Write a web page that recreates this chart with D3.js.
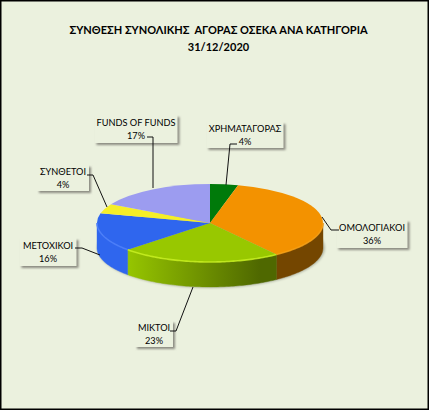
<!DOCTYPE html>
<html>
<head>
<meta charset="utf-8">
<script src="https://d3js.org/d3.v7.min.js"></script>
<style>
  html, body { margin: 0; padding: 0; background: #fff; }
  svg { display: block; }
  text { font-family: Lato, "Open Sans", sans-serif; fill: #000; }
</style>
</head>
<body>
<svg id="chart" width="429" height="410"></svg>
<script>
var titleLines = ["ΣΥΝΘΕΣΗ ΣΥΝΟΛΙΚΗΣ  ΑΓΟΡΑΣ ΟΣΕΚΑ ΑΝΑ ΚΑΤΗΓΟΡΙΑ", "31/12/2020"];
var categories = ["ΧΡΗΜΑΤΑΓΟΡΑΣ", "ΟΜΟΛΟΓΙΑΚΟΙ", "ΜΙΚΤΟΙ", "ΜΕΤΟΧΙΚΟΙ", "ΣΥΝΘΕΤΟΙ", "FUNDS OF FUNDS"];
var values = [4, 36, 23, 16, 4, 17];
var colors = ["#007a0a", "#f39200", "#98c800", "#2f66ee", "#f5ee28", "#9c9cf0"];
var darkColors = ["#004a06", "#744600", "#4f6800", "#2a5cd8", "#a09a10", "#6060a0"];
var rimColors = ["#fff", "#f7a015", "#c8f020", "#4d80fa", "#fff", "#fff"];

// label boxes and leader lines, in px
var labelBoxes = [
  {cx: 245, cy: 135, w: 77, h: 26, anchor: [[237, 144], [230, 144], [226, 185]]},
  {cx: 372, cy: 234, w: 71, h: 28, anchor: [[339, 230], [331, 230], [322, 217]]},
  {cx: 154, cy: 334, w: 38, h: 26, anchor: [[170, 331], [176, 331], [193, 287]]},
  {cx: 48, cy: 252, w: 57, h: 28, anchor: [[75, 248], [82, 248], [100, 255]]},
  {cx: 63, cy: 178, w: 52, h: 26, anchor: [[87, 175], [93, 175], [107, 207]]},
  {cx: 136, cy: 129, w: 83, h: 28, anchor: [[147, 137], [153, 137], [153, 188]]}
];

var width = 429, height = 410;
var cx = 210, cy = 223, rx = 113, ry = 39, depth = 25;

var svg = d3.select("#chart");
var defs = svg.append("defs");

var blur = defs.append("filter").attr("id", "soft")
  .attr("x", "-20%").attr("y", "-20%").attr("width", "150%").attr("height", "150%");
blur.append("feGaussianBlur").attr("stdDeviation", 1.2);

svg.append("rect")
  .attr("x", 0.75).attr("y", 0.75)
  .attr("width", width - 1.5).attr("height", height - 1.5)
  .attr("fill", "#ebf1de").attr("stroke", "#000").attr("stroke-width", 1.5);

svg.append("g").selectAll("text").data(titleLines).enter().append("text")
  .attr("x", 218.5)
  .attr("y", function (_, i) { return 34 + i * 17; })
  .attr("text-anchor", "middle")
  .attr("font-size", 11)
  .attr("font-weight", "bold")
  .attr("xml:space", "preserve")
  .text(function (d) { return d; });

var pie = d3.pie().sort(null)(values);

function pointAt(t, dy) {
  return [cx + rx * Math.sin(t), cy - ry * Math.cos(t) + (dy || 0)];
}

// shadow under the disc
svg.append("ellipse")
  .attr("cx", cx + 1).attr("cy", cy + depth)
  .attr("rx", rx + 1).attr("ry", ry + 1)
  .attr("fill", "#b4b9a8").attr("filter", "url(#soft)");

// side gradients: along screen x, lit on the left and dark on the right
pie.forEach(function (d, i) {
  var g = defs.append("linearGradient").attr("id", "side" + i)
    .attr("gradientUnits", "userSpaceOnUse")
    .attr("x1", cx - rx).attr("x2", cx + rx).attr("y1", 0).attr("y2", 0);
  g.append("stop").attr("offset", "0%").attr("stop-color", colors[i]);
  g.append("stop").attr("offset", "12%").attr("stop-color", colors[i]);
  g.append("stop").attr("offset", "72%").attr("stop-color", darkColors[i]);
  g.append("stop").attr("offset", "100%").attr("stop-color", darkColors[i]);
});

// wall: only the part of a slice facing the viewer, t in [pi/2, 3pi/2]
var sideLine = d3.line();
pie.forEach(function (d, i) {
  var a = Math.max(d.startAngle, Math.PI / 2);
  var b = Math.min(d.endAngle, 3 * Math.PI / 2);
  if (b <= a) return;
  var ts = d3.range(a, b, 0.02).concat([b]);
  var pts = ts.map(function (t) { return pointAt(t); })
    .concat(ts.slice().reverse().map(function (t) { return pointAt(t, depth); }));
  svg.append("path").attr("d", sideLine(pts) + "Z")
    .attr("fill", "url(#side" + i + ")")
    .attr("stroke", "url(#side" + i + ")").attr("stroke-width", 0.4);
});

// top face, a d3.arc squashed to the ellipse
var arc = d3.arc().innerRadius(0).outerRadius(rx);
var topFace = svg.append("g").attr("transform", "translate(" + cx + "," + cy + ") scale(1," + (ry / rx) + ")");
topFace.selectAll("path").data(pie).enter().append("path")
  .attr("d", arc)
  .attr("fill", function (_, i) { return colors[i]; });

// rim highlight on the front edge of the top face
pie.forEach(function (d, i) {
  var a = Math.max(d.startAngle, Math.PI / 2);
  var b = Math.min(d.endAngle, 3 * Math.PI / 2);
  if (b <= a) return;
  var ts = d3.range(a, b, 0.02).concat([b]);
  svg.append("path").attr("d", sideLine(ts.map(function (t) { return pointAt(t, 0); })))
    .attr("fill", "none").attr("stroke", rimColors[i]).attr("stroke-width", 1.6).attr("opacity", 0.85);
});

// data labels: boxes first, then leaders, then the text over them
var labels = svg.append("g").selectAll("g").data(labelBoxes).enter().append("g")
  .attr("transform", function (d) { return "translate(" + d.cx + "," + d.cy + ")"; });
labels.append("rect")
  .attr("x", function (d) { return -d.w / 2 + 2; })
  .attr("y", function (d) { return -d.h / 2 + 2; })
  .attr("width", function (d) { return d.w; })
  .attr("height", function (d) { return d.h; })
  .attr("fill", "#8c8c82").attr("filter", "url(#soft)");
labels.append("rect")
  .attr("x", function (d) { return -d.w / 2; })
  .attr("y", function (d) { return -d.h / 2; })
  .attr("width", function (d) { return d.w; })
  .attr("height", function (d) { return d.h; })
  .attr("fill", "#ebf1de");

var leader = d3.line();
svg.append("g").selectAll("path").data(labelBoxes).enter().append("path")
  .attr("d", function (d) { return leader(d.anchor); })
  .attr("fill", "none").attr("stroke", "#111").attr("stroke-width", 1);

var labelText = svg.append("g").selectAll("g").data(labelBoxes).enter().append("g")
  .attr("transform", function (d) { return "translate(" + d.cx + "," + d.cy + ")"; });
labelText.append("text")
  .attr("text-anchor", "middle").attr("y", -3).attr("font-size", 9.2)
  .text(function (_, i) { return categories[i]; });
labelText.append("text")
  .attr("text-anchor", "middle").attr("y", 10).attr("font-size", 9.2)
  .text(function (_, i) { return values[i] + "%"; });
</script>
</body>
</html>
